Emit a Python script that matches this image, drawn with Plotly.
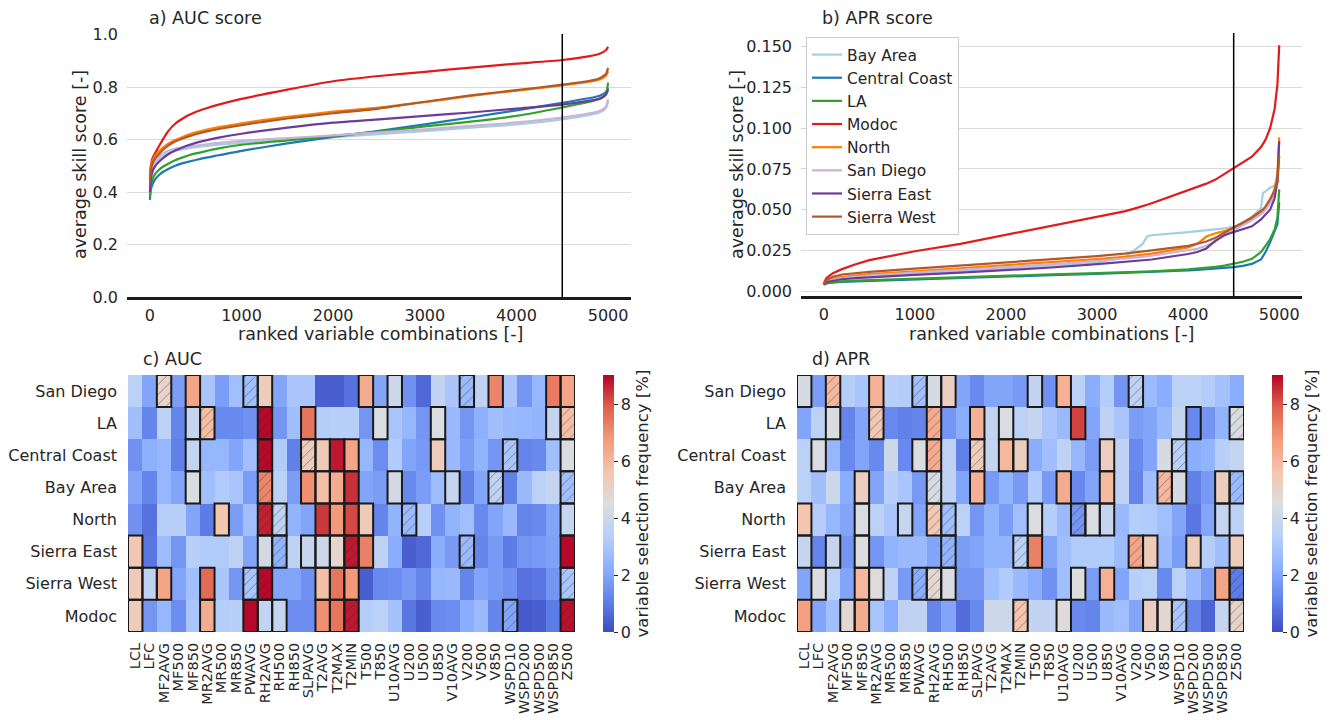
import plotly.graph_objects as go

# ---------------- data ----------------
regions = ["Bay Area", "Central Coast", "LA", "Modoc", "North", "San Diego", "Sierra East", "Sierra West"]
line_colors = ["#a6cee3", "#1f78b4", "#33a02c", "#e31a1c", "#ff7f00", "#cab2d6", "#6a3d9a", "#b15928"]
cutoff = 4500

auc_x = [0, 10, 30, 60, 100, 150, 200, 275, 350, 425, 500, 600, 750, 1000, 1500, 2000, 2500, 3000, 3500, 4000, 4500, 4800, 4900, 4950, 4980, 5000]
auc_bay_area = [0.42, 0.46, 0.49, 0.51, 0.525, 0.538, 0.548, 0.556, 0.562, 0.567, 0.571, 0.575, 0.58, 0.587, 0.598, 0.609, 0.62, 0.632, 0.645, 0.658, 0.677, 0.694, 0.702, 0.711, 0.722, 0.745]
auc_central_coast = [0.37, 0.41, 0.43, 0.45, 0.465, 0.478, 0.488, 0.5, 0.509, 0.516, 0.522, 0.53, 0.54, 0.557, 0.585, 0.61, 0.633, 0.658, 0.684, 0.711, 0.74, 0.758, 0.766, 0.774, 0.782, 0.797]
auc_la = [0.38, 0.42, 0.45, 0.47, 0.485, 0.498, 0.508, 0.521, 0.531, 0.54, 0.547, 0.555, 0.566, 0.58, 0.597, 0.614, 0.63, 0.65, 0.668, 0.69, 0.722, 0.744, 0.753, 0.764, 0.778, 0.817]
auc_modoc = [0.46, 0.50, 0.53, 0.55, 0.575, 0.605, 0.632, 0.66, 0.678, 0.693, 0.705, 0.717, 0.733, 0.755, 0.79, 0.822, 0.842, 0.858, 0.874, 0.889, 0.903, 0.918, 0.926, 0.934, 0.942, 0.953]
auc_north = [0.45, 0.49, 0.52, 0.54, 0.555, 0.571, 0.584, 0.598, 0.609, 0.619, 0.627, 0.636, 0.647, 0.662, 0.686, 0.706, 0.722, 0.742, 0.766, 0.786, 0.806, 0.82, 0.828, 0.836, 0.845, 0.86]
auc_san_diego = [0.43, 0.47, 0.50, 0.52, 0.535, 0.548, 0.557, 0.565, 0.57, 0.574, 0.577, 0.581, 0.587, 0.595, 0.605, 0.616, 0.627, 0.639, 0.652, 0.665, 0.684, 0.700, 0.708, 0.717, 0.728, 0.753]
auc_sierra_east = [0.40, 0.45, 0.48, 0.50, 0.515, 0.531, 0.544, 0.558, 0.569, 0.579, 0.587, 0.596, 0.607, 0.622, 0.645, 0.664, 0.677, 0.69, 0.703, 0.718, 0.733, 0.748, 0.755, 0.763, 0.772, 0.79]
auc_sierra_west = [0.44, 0.48, 0.51, 0.53, 0.545, 0.563, 0.577, 0.592, 0.603, 0.612, 0.62, 0.629, 0.64, 0.655, 0.68, 0.70, 0.718, 0.744, 0.768, 0.788, 0.809, 0.824, 0.832, 0.842, 0.852, 0.873]

apr_x = [0, 10, 30, 60, 100, 200, 350, 500, 1000, 1500, 2000, 2500, 3000, 3300, 3400, 3500, 3550, 3600, 4000, 4100, 4200, 4300, 4400, 4500, 4600, 4700, 4800, 4820, 4850, 4900, 4950, 4980, 5000]
apr_bay_area = [0.004, 0.0047, 0.0054, 0.006, 0.0066, 0.0076, 0.0084, 0.009, 0.0106, 0.012, 0.0135, 0.0155, 0.0178, 0.0205, 0.0245, 0.029, 0.0335, 0.0343, 0.0362, 0.0367, 0.0372, 0.0378, 0.0385, 0.0395, 0.0418, 0.0458, 0.051, 0.060, 0.0615, 0.0635, 0.0648, 0.066, 0.068]
apr_central_coast = [0.004, 0.0043, 0.0047, 0.005, 0.0053, 0.0057, 0.006, 0.0063, 0.0071, 0.0081, 0.009, 0.0098, 0.0106, 0.0111, 0.0113, 0.0115, 0.0116, 0.0117, 0.0127, 0.013, 0.0134, 0.0138, 0.0142, 0.0147, 0.0155, 0.0167, 0.0195, 0.021, 0.024, 0.030, 0.0365, 0.041, 0.0545]
apr_la = [0.004, 0.0045, 0.005, 0.0053, 0.0056, 0.006, 0.0064, 0.0067, 0.0077, 0.0087, 0.0096, 0.0103, 0.011, 0.0115, 0.0117, 0.0119, 0.012, 0.0121, 0.0133, 0.0137, 0.0142, 0.0149, 0.0157, 0.0167, 0.018, 0.0198, 0.024, 0.0255, 0.028, 0.032, 0.038, 0.045, 0.0625]
apr_modoc = [0.004, 0.006, 0.008, 0.0095, 0.011, 0.0135, 0.0165, 0.019, 0.0245, 0.029, 0.0345, 0.040, 0.0455, 0.049, 0.0505, 0.052, 0.053, 0.054, 0.062, 0.064, 0.066, 0.0685, 0.072, 0.0753, 0.0785, 0.0825, 0.0885, 0.090, 0.093, 0.100, 0.112, 0.127, 0.151]
apr_north = [0.004, 0.005, 0.006, 0.0068, 0.0075, 0.0088, 0.0098, 0.0104, 0.0122, 0.014, 0.0157, 0.0176, 0.0197, 0.021, 0.0216, 0.0222, 0.0226, 0.023, 0.0268, 0.029, 0.0335, 0.0355, 0.0368, 0.039, 0.0415, 0.0445, 0.0484, 0.0495, 0.051, 0.055, 0.063, 0.072, 0.0945]
apr_san_diego = [0.004, 0.0048, 0.0056, 0.0063, 0.007, 0.008, 0.0089, 0.0095, 0.0113, 0.013, 0.0146, 0.0165, 0.0185, 0.0198, 0.0203, 0.021, 0.0213, 0.0217, 0.0248, 0.026, 0.0278, 0.0305, 0.034, 0.0375, 0.0405, 0.0435, 0.047, 0.048, 0.050, 0.054, 0.059, 0.066, 0.080]
apr_sierra_east = [0.004, 0.0046, 0.0053, 0.0059, 0.0064, 0.0073, 0.008, 0.0085, 0.0100, 0.0113, 0.0127, 0.0145, 0.0166, 0.0178, 0.0183, 0.0188, 0.0191, 0.0194, 0.0228, 0.024, 0.0262, 0.031, 0.0345, 0.0362, 0.0378, 0.0398, 0.044, 0.0455, 0.047, 0.050, 0.057, 0.068, 0.092]
apr_sierra_west = [0.004, 0.0055, 0.0068, 0.0078, 0.0088, 0.0102, 0.0112, 0.0118, 0.0138, 0.0157, 0.0175, 0.0195, 0.0215, 0.023, 0.0236, 0.0243, 0.0247, 0.025, 0.0278, 0.029, 0.0305, 0.0328, 0.0358, 0.0392, 0.042, 0.0452, 0.0492, 0.050, 0.052, 0.0565, 0.062, 0.068, 0.083]

variables = ["LCL", "LFC", "MF2AVG", "MF500", "MF850", "MR2AVG", "MR500", "MR850", "PWAVG", "RH2AVG",
             "RH500", "RH850", "SLPAVG", "T2AVG", "T2MAX", "T2MIN", "T500", "T850", "U10AVG", "U200",
             "U500", "U850", "V10AVG", "V200", "V500", "V850", "WSPD10", "WSPD200", "WSPD500", "WSPD850", "Z500"]
heat_regions = ["San Diego", "LA", "Central Coast", "Bay Area", "North", "Sierra East", "Sierra West", "Modoc"]

# variable selection frequency [%], rows = heat_regions, cols = variables
auc_freq = [
    [3.5, 2.0, 5.0, 1.8, 6.5, 3.0, 1.8, 2.8, 2.8, 5.3, 2.0, 3.0, 3.0, 0.4, 0.4, 0.8, 6.3, 2.0, 4.0, 1.5, 0.6, 3.7, 3.0, 2.6, 3.6, 7.2, 3.0, 1.6, 2.5, 7.4, 6.5],
    [2.8, 1.2, 3.5, 1.2, 3.8, 5.8, 1.3, 1.3, 1.5, 9.0, 1.6, 2.8, 7.5, 3.3, 3.4, 3.4, 1.6, 4.4, 3.0, 2.5, 1.6, 4.4, 2.6, 1.6, 2.3, 2.8, 2.6, 2.5, 2.4, 3.8, 5.8],
    [1.5, 2.3, 2.5, 1.1, 3.7, 2.5, 2.5, 2.0, 2.8, 9.0, 3.2, 1.1, 5.3, 5.4, 8.8, 6.5, 2.5, 1.4, 3.2, 2.0, 1.7, 5.3, 2.6, 1.8, 2.4, 1.6, 3.0, 1.2, 1.3, 2.8, 4.4],
    [2.0, 1.2, 2.5, 2.0, 4.4, 2.8, 3.2, 3.0, 1.8, 7.2, 3.5, 1.8, 7.0, 5.8, 6.3, 8.5, 2.0, 1.8, 4.2, 1.3, 1.8, 2.7, 3.8, 1.1, 2.0, 3.6, 1.1, 2.6, 3.5, 3.8, 2.8],
    [1.5, 0.8, 3.4, 3.4, 2.0, 1.0, 5.6, 1.8, 2.8, 8.7, 3.6, 2.4, 2.0, 8.4, 6.8, 8.2, 5.4, 1.2, 2.4, 2.6, 3.4, 1.5, 2.4, 2.8, 1.3, 2.0, 2.6, 1.2, 1.3, 2.0, 3.8],
    [5.5, 0.9, 2.7, 1.6, 3.4, 3.2, 3.2, 3.6, 2.0, 4.2, 2.4, 3.6, 3.8, 4.0, 4.9, 8.8, 7.3, 3.6, 2.2, 0.4, 0.6, 2.2, 1.7, 2.6, 1.2, 1.7, 1.0, 1.6, 1.7, 1.9, 9.0],
    [5.4, 3.6, 6.5, 2.0, 2.8, 7.7, 3.0, 1.6, 3.0, 9.0, 2.0, 2.0, 1.5, 5.8, 7.5, 6.8, 0.4, 1.3, 1.4, 1.7, 1.2, 2.5, 2.6, 1.2, 2.0, 1.7, 1.5, 0.8, 0.9, 1.6, 3.0],
    [5.3, 1.6, 2.5, 1.4, 3.0, 6.3, 3.3, 3.4, 9.0, 3.7, 3.8, 1.4, 1.4, 7.0, 7.5, 8.8, 3.3, 3.5, 2.9, 0.9, 0.4, 1.3, 1.4, 2.2, 2.6, 1.2, 2.0, 0.3, 0.4, 1.0, 8.9],
]
# 0 = plain cell, 1 = outlined, 2 = outlined and hatched
auc_mark = [
    [0, 0, 2, 0, 1, 0, 0, 0, 2, 1, 0, 0, 0, 0, 0, 0, 1, 0, 1, 0, 0, 0, 0, 2, 0, 1, 0, 0, 0, 1, 1],
    [0, 0, 0, 0, 1, 2, 0, 0, 0, 2, 0, 0, 1, 0, 0, 0, 0, 1, 0, 0, 0, 1, 0, 0, 0, 0, 0, 0, 0, 1, 2],
    [0, 0, 0, 0, 1, 0, 0, 0, 0, 2, 0, 0, 2, 1, 1, 1, 0, 0, 0, 0, 0, 1, 0, 0, 0, 0, 2, 0, 0, 0, 1],
    [0, 0, 0, 0, 1, 0, 0, 0, 0, 2, 0, 0, 1, 1, 1, 1, 0, 0, 1, 0, 0, 0, 1, 0, 0, 2, 0, 0, 0, 0, 2],
    [0, 0, 0, 0, 0, 0, 1, 0, 0, 2, 2, 0, 0, 1, 1, 1, 1, 0, 0, 2, 0, 0, 0, 0, 0, 0, 0, 0, 0, 0, 1],
    [1, 0, 0, 0, 0, 0, 0, 0, 0, 1, 2, 0, 1, 1, 1, 2, 1, 0, 0, 0, 0, 0, 0, 2, 0, 0, 0, 0, 0, 0, 1],
    [1, 1, 1, 0, 0, 1, 0, 0, 2, 2, 0, 0, 0, 1, 1, 1, 0, 0, 0, 0, 0, 0, 0, 0, 0, 0, 0, 0, 0, 0, 2],
    [1, 0, 0, 0, 0, 1, 0, 0, 1, 1, 1, 0, 0, 1, 1, 2, 0, 0, 0, 0, 0, 0, 0, 0, 0, 0, 2, 0, 0, 0, 2],
]
apr_freq = [
    [4.3, 1.8, 6.0, 3.3, 3.0, 6.2, 3.4, 3.3, 2.8, 4.3, 5.2, 2.0, 1.3, 2.0, 2.0, 1.7, 3.7, 1.5, 6.2, 3.5, 2.2, 3.3, 1.6, 3.6, 2.6, 2.2, 3.5, 3.5, 3.3, 2.9, 2.2],
    [2.0, 3.5, 4.4, 1.2, 2.0, 5.5, 1.3, 1.1, 1.2, 6.3, 1.6, 2.2, 6.2, 3.7, 4.4, 3.5, 3.8, 3.0, 2.6, 8.3, 2.0, 3.6, 3.0, 1.8, 2.0, 2.6, 3.8, 1.3, 1.6, 2.4, 4.4],
    [3.5, 4.4, 2.5, 1.3, 2.0, 1.3, 4.0, 1.3, 4.4, 6.3, 3.6, 1.1, 5.3, 3.7, 6.0, 5.2, 2.2, 2.8, 3.6, 2.5, 1.8, 5.2, 3.6, 1.3, 2.0, 4.3, 3.4, 2.2, 2.4, 3.4, 3.8],
    [3.5, 2.8, 4.0, 2.2, 5.2, 2.0, 3.4, 3.0, 1.7, 4.3, 3.6, 2.0, 6.2, 1.7, 2.4, 1.7, 3.2, 1.7, 6.3, 1.3, 2.0, 5.9, 3.6, 1.2, 2.8, 6.0, 4.3, 1.1, 1.7, 5.2, 2.6],
    [5.6, 3.3, 2.5, 2.0, 4.4, 3.5, 3.0, 3.8, 2.0, 5.5, 2.8, 3.5, 1.6, 2.4, 1.8, 2.8, 4.4, 3.3, 2.6, 1.6, 4.4, 3.8, 2.6, 3.3, 3.2, 2.8, 2.0, 0.9, 2.0, 3.8, 3.5],
    [3.8, 1.2, 3.8, 1.6, 4.5, 1.6, 2.4, 2.6, 2.6, 2.0, 2.4, 1.8, 2.0, 2.4, 2.4, 3.5, 7.3, 2.0, 2.8, 3.2, 3.2, 3.2, 2.7, 6.5, 5.4, 2.6, 1.8, 5.3, 3.3, 2.8, 5.3],
    [2.0, 4.5, 3.5, 2.0, 6.0, 4.6, 3.6, 1.7, 2.2, 4.8, 4.4, 1.6, 1.6, 2.8, 3.2, 2.6, 2.2, 1.5, 2.8, 4.5, 1.8, 6.2, 2.0, 3.4, 3.5, 1.3, 3.5, 2.6, 1.8, 6.5, 1.0],
    [6.6, 2.0, 2.8, 4.8, 6.3, 3.0, 2.2, 3.6, 3.6, 1.2, 2.0, 0.7, 1.3, 4.0, 4.0, 5.6, 3.7, 3.7, 4.6, 1.3, 1.2, 2.6, 2.8, 2.0, 5.2, 4.8, 3.0, 1.2, 0.5, 3.8, 5.0],
]
apr_mark = [
    [1, 0, 2, 0, 0, 1, 0, 0, 2, 1, 1, 0, 0, 0, 0, 0, 1, 0, 1, 0, 0, 0, 0, 2, 0, 0, 0, 0, 0, 0, 0],
    [0, 0, 1, 0, 0, 2, 0, 0, 0, 2, 0, 0, 1, 0, 1, 0, 0, 0, 0, 1, 0, 0, 0, 0, 0, 0, 0, 1, 0, 0, 2],
    [0, 1, 0, 0, 0, 0, 0, 0, 1, 2, 0, 0, 2, 0, 1, 1, 0, 0, 0, 0, 0, 1, 0, 0, 0, 0, 2, 0, 0, 0, 0],
    [0, 0, 0, 0, 1, 0, 0, 0, 0, 2, 0, 0, 1, 0, 0, 0, 0, 0, 1, 0, 0, 1, 0, 0, 0, 2, 1, 0, 0, 1, 2],
    [1, 0, 0, 0, 1, 0, 0, 1, 0, 2, 2, 0, 0, 0, 0, 0, 1, 0, 0, 2, 1, 1, 0, 0, 0, 0, 0, 0, 0, 1, 0],
    [1, 0, 1, 0, 1, 0, 0, 0, 0, 0, 2, 0, 0, 0, 0, 2, 1, 0, 0, 0, 0, 0, 0, 2, 1, 0, 0, 1, 0, 0, 1],
    [0, 1, 0, 0, 1, 1, 0, 0, 2, 2, 1, 0, 0, 0, 0, 0, 0, 0, 0, 1, 0, 1, 0, 0, 0, 0, 0, 0, 0, 1, 2],
    [1, 0, 0, 1, 1, 0, 0, 0, 0, 0, 0, 0, 0, 0, 0, 2, 0, 0, 1, 0, 0, 0, 0, 0, 1, 1, 2, 0, 0, 0, 2],
]
cbar_ticks = [0, 2, 4, 6, 8]
freq_max = 9.05

# ---------------- styling ----------------
W, H = 1336, 720
FONT = "DejaVu Sans"
TXT = "#262626"
GRID = "#d9d9d9"
coolwarm = [
    [0.0, "rgb(59,76,192)"], [0.125, "rgb(98,130,234)"], [0.25, "rgb(141,176,254)"],
    [0.375, "rgb(184,208,249)"], [0.5, "rgb(221,221,221)"], [0.625, "rgb(245,196,173)"],
    [0.75, "rgb(244,154,123)"], [0.875, "rgb(222,96,77)"], [1.0, "rgb(180,4,38)"],
]


def px_x(a, b):
    return [a / W, b / W]


def px_y(top, bottom):
    return [1 - bottom / H, 1 - top / H]


fig = go.Figure()

auc_series = [auc_bay_area, auc_central_coast, auc_la, auc_modoc, auc_north, auc_san_diego, auc_sierra_east, auc_sierra_west]
apr_series = [apr_bay_area, apr_central_coast, apr_la, apr_modoc, apr_north, apr_san_diego, apr_sierra_east, apr_sierra_west]

for name, col, ys in zip(regions, line_colors, auc_series):
    fig.add_trace(go.Scatter(x=auc_x, y=ys, mode="lines", name=name,
                             line=dict(color=col, width=2.2, shape="spline", smoothing=0.6),
                             xaxis="x", yaxis="y", showlegend=False))
for name, col, ys in zip(regions, line_colors, apr_series):
    fig.add_trace(go.Scatter(x=apr_x, y=ys, mode="lines", name=name, line=dict(color=col, width=2.2),
                             xaxis="x2", yaxis="y2", showlegend=True))

for xr, yr in (("x", "y domain"), ("x2", "y2 domain")):
    fig.add_shape(type="line", x0=cutoff, x1=cutoff, y0=0, y1=1, xref=xr, yref=yr,
                  line=dict(color="black", width=1.5), layer="above")


def add_heat(freq, mark, xa, ya, cb_x):
    ncol = len(variables)
    nrow = len(heat_regions)
    fig.add_trace(go.Heatmap(
        z=freq, x=list(range(ncol)), y=list(range(nrow)), colorscale=coolwarm, zmin=0, zmax=freq_max,
        xaxis=xa, yaxis=ya, hoverinfo="skip",
        colorbar=dict(x=cb_x / W, xanchor="left", xpad=0, ypad=0, thickness=11, len=257 / H, lenmode="fraction",
                      y=1 - 503.5 / H, yanchor="middle", outlinewidth=0, ticks="outside", ticklen=4,
                      tickcolor=TXT, tickvals=cbar_ticks, tickfont=dict(size=16, color=TXT, family=FONT),
                      title=dict(text="variable selection frequency [%]", side="right",
                                 font=dict(size=16.5, color=TXT, family=FONT))),
    ))
    for kind in (1, 2):
        xs, bases = [], []
        for r in range(nrow):
            for c in range(ncol):
                if mark[r][c] == kind:
                    xs.append(c)
                    bases.append(r - 0.5)
        marker = dict(color="rgba(0,0,0,0)", line=dict(color="#1a1a1a", width=2))
        if kind == 2:
            marker["pattern"] = dict(shape="/", fgcolor="#2a2a2a", bgcolor="rgba(0,0,0,0)", size=7, solidity=0.12)
        fig.add_trace(go.Bar(x=xs, y=[1] * len(xs), base=bases, width=1, marker=marker,
                             xaxis=xa, yaxis=ya, showlegend=False, hoverinfo="skip"))


add_heat(auc_freq, auc_mark, "x3", "y3", 603)
add_heat(apr_freq, apr_mark, "x4", "y4", 1272)

tickfont = dict(size=16, color=TXT, family=FONT)
titlefont = dict(size=17.5, color=TXT, family=FONT)

line_x_common = dict(range=[-250, 5250], tickvals=[0, 1000, 2000, 3000, 4000, 5000], showgrid=False,
                     zeroline=False, showline=True, linecolor="#1a1a1a", linewidth=2.5, ticks="",
                     ticklabelstandoff=2, automargin=False, tickfont=tickfont)
line_y_common = dict(showgrid=True, gridcolor=GRID, gridwidth=1.2, zeroline=False, showline=False, ticks="",
                     ticklabelstandoff=8, automargin=False, tickfont=tickfont)

heat_x_common = dict(range=[-0.5, len(variables) - 0.5], tickvals=list(range(len(variables))), ticktext=variables,
                     tickangle=-90, showgrid=False, zeroline=False, showline=False, ticks="", automargin=False,
                     ticklabelstandoff=7, tickfont=dict(size=14.5, color=TXT, family=FONT))
heat_y_common = dict(range=[len(heat_regions) - 0.5, -0.5], tickvals=list(range(len(heat_regions))),
                     ticktext=heat_regions, showgrid=False, zeroline=False, showline=False, ticks="",
                     automargin=False, ticklabelstandoff=10, tickfont=tickfont)

fig.update_layout(
    width=W, height=H, margin=dict(l=0, r=0, t=0, b=0, autoexpand=False),
    paper_bgcolor="white", plot_bgcolor="white",
    font=dict(family=FONT, color=TXT),
    barmode="overlay",
    xaxis=dict(domain=px_x(127, 631), anchor="y", **line_x_common),
    yaxis=dict(domain=px_y(34, 297), anchor="x", range=[0, 1.002], tickvals=[0, 0.2, 0.4, 0.6, 0.8, 1.0],
               tickformat=".1f", **line_y_common),
    xaxis2=dict(domain=px_x(801, 1302), anchor="y2", **line_x_common),
    yaxis2=dict(domain=px_y(33, 296), anchor="x2", range=[-0.003, 0.1585],
                tickvals=[0, 0.025, 0.05, 0.075, 0.1, 0.125, 0.15], tickformat=".3f", **line_y_common),
    xaxis3=dict(domain=px_x(128, 575), anchor="y3", **heat_x_common),
    yaxis3=dict(domain=px_y(375, 632), anchor="x3", **heat_y_common),
    xaxis4=dict(domain=px_x(797, 1244), anchor="y4", **heat_x_common),
    yaxis4=dict(domain=px_y(375, 632), anchor="x4", **heat_y_common),
    legend=dict(x=806 / W, y=1 - 37 / H, xanchor="left", yanchor="top", bgcolor="white",
                bordercolor="#cccccc", borderwidth=1, font=dict(size=15.5, color=TXT, family=FONT),
                tracegroupgap=0, itemwidth=30),
)

for txt, x, y in [("a) AUC score", 147, 18), ("b) APR score", 820, 18), ("c) AUC", 141, 359), ("d) APR", 810, 359)]:
    fig.add_annotation(text=txt, x=x / W, y=1 - y / H, xref="paper", yref="paper", xanchor="left",
                       yanchor="middle", showarrow=False, font=dict(size=17.5, color=TXT, family=FONT))

# axis titles
for txt, x, y, ang in [("ranked variable combinations [-]", 380, 334, 0),
                       ("ranked variable combinations [-]", 1051, 334, 0),
                       ("average skill score [-]", 80, 165, -90),
                       ("average skill score [-]", 737, 165, -90)]:
    fig.add_annotation(text=txt, x=x / W, y=1 - y / H, xref="paper", yref="paper", xanchor="center",
                       yanchor="middle", textangle=ang, showarrow=False, font=titlefont)

fig.write_html("out.html")
